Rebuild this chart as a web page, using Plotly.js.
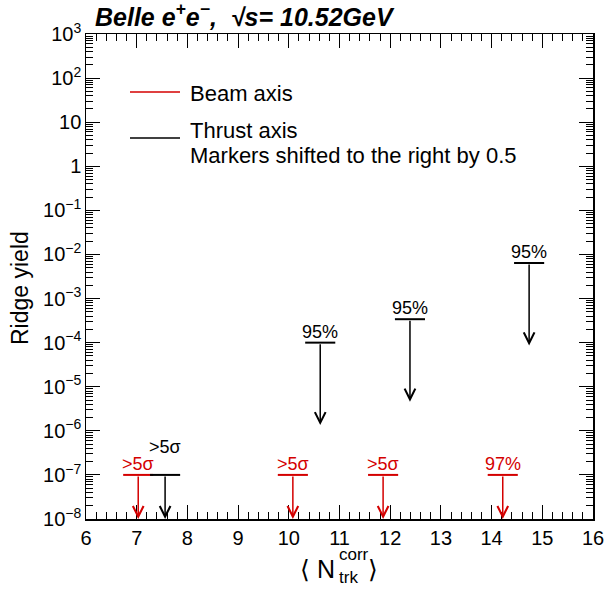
<!DOCTYPE html>
<html><head><meta charset="utf-8">
<script src="https://cdn.plot.ly/plotly-3.0.1.min.js"></script>
<style>html,body{margin:0;padding:0;background:#fff}</style>
</head><body><div id="chart" style="width:605px;height:591px"></div>
<script>
// ---------------- data ----------------
const beamX = [7.03, 10.08, 11.86, 14.22];
const beamLimit = [1e-7, 1e-7, 1e-7, 1e-7];
const beamLabels = ['>5σ', '>5σ', '>5σ', '97%'];
const thrustX = [7.56, 10.62, 12.39, 14.74];
const thrustLimit = [1e-7, 1.0e-4, 3.4e-4, 6.4e-3];
const thrustLabels = ['>5σ', '95%', '95%', '95%'];
const seriesNames = ['Beam axis', 'Thrust axis'];
const legendNote = 'Markers shifted to the right by 0.5';
const titleText = '<b><i>Belle e<sup>+</sup>e<sup>−</sup>,  √s= 10.52GeV</i></b>';
const yTitle = 'Ridge yield';
const xRange = [6, 16];
const yRangeLog = [-8, 3];

// ---------------- style ----------------
const RED = '#d40000', BLACK = '#000000';
const FONT = 'Liberation Sans, Arial, Helvetica, sans-serif';
const W = 605, H = 591, L = 86, R = 593, T = 34, B = 519;
const px = x => (x - L) / (R - L);
const py = y => (B - y) / (B - T);
const ARROW_DECADES = 1.87;

const series = [
  {x: beamX, lim: beamLimit, lab: beamLabels, color: RED},
  {x: thrustX, lim: thrustLimit, lab: thrustLabels, color: BLACK}
];

const traces = series.map((s, i) => ({
  type: 'scatter', mode: 'markers', x: s.x, y: s.lim, name: seriesNames[i],
  showlegend: false, hoverinfo: 'skip', cliponaxis: false,
  marker: {symbol: 'line-ew', size: 21.5, color: s.color, line: {color: s.color, width: 2}}
}));

const annotations = [];
series.forEach((s, i) => {
  s.x.forEach((xv, j) => {
    const top = Math.log10(s.lim[j]);
    const tip = Math.max(top - ARROW_DECADES, yRangeLog[0]);
    annotations.push({x: xv, y: tip, ax: xv, ay: top, xref: 'x', yref: 'y', axref: 'x', ayref: 'y',
      text: '', showarrow: true, arrowhead: 5, arrowsize: 1.4, arrowwidth: 1.5, arrowcolor: s.color});
    // label; raise thrust label if it collides with a beam label at the same level
    let shift = 0;
    if (i === 1) {
      series[0].x.forEach((bx, k) => {
        if (Math.abs(bx - xv) < 0.8 && series[0].lim[k] === s.lim[j]) shift = 17;
      });
    }
    annotations.push({x: xv, y: top, xref: 'x', yref: 'y', text: s.lab[j], showarrow: false,
      yanchor: 'bottom', yshift: shift - 1, font: {family: FONT, size: 18, color: s.color}});
  });
});

// legend (custom)
const shapes = [
  {type: 'line', xref: 'paper', yref: 'paper', x0: px(130), x1: px(180), y0: py(92), y1: py(92), line: {color: RED, width: 1.5}},
  {type: 'line', xref: 'paper', yref: 'paper', x0: px(130), x1: px(180), y0: py(138), y1: py(138), line: {color: BLACK, width: 1.5}}
];
const LEG = {family: FONT, size: 22, color: '#000'};
annotations.push(
  {xref: 'paper', yref: 'paper', x: px(188), y: py(93), xanchor: 'left', yanchor: 'middle', text: seriesNames[0], showarrow: false, font: LEG},
  {xref: 'paper', yref: 'paper', x: px(188), y: py(131), xanchor: 'left', yanchor: 'middle', text: seriesNames[1], showarrow: false, font: LEG},
  {xref: 'paper', yref: 'paper', x: px(188), y: py(155), xanchor: 'left', yanchor: 'middle', text: legendNote, showarrow: false, font: LEG}
);
// title
annotations.push({xref: 'paper', yref: 'paper', x: px(93), y: py(15), xanchor: 'left', yanchor: 'middle',
  text: titleText, showarrow: false, font: {family: FONT, size: 25, color: '#000'}});
// y title
annotations.push({xref: 'paper', yref: 'paper', x: px(20), y: py(288), xanchor: 'center', yanchor: 'middle',
  text: yTitle, textangle: -90, showarrow: false, font: {family: FONT, size: 23, color: '#000'}});
// x title: ⟨ N^corr_trk ⟩
annotations.push(
  {xref: 'paper', yref: 'paper', x: px(336), y: py(569), xanchor: 'right', yanchor: 'middle', text: '⟨ N', showarrow: false, borderpad: 0, font: {family: FONT, size: 25, color: '#000'}},
  {xref: 'paper', yref: 'paper', x: px(338), y: py(554), xanchor: 'left', yanchor: 'middle', text: 'corr', showarrow: false, borderpad: 0, font: {family: FONT, size: 17, color: '#000'}},
  {xref: 'paper', yref: 'paper', x: px(338), y: py(577), xanchor: 'left', yanchor: 'middle', text: 'trk', showarrow: false, borderpad: 0, font: {family: FONT, size: 17, color: '#000'}},
  {xref: 'paper', yref: 'paper', x: px(367), y: py(569), xanchor: 'left', yanchor: 'middle', text: '⟩', showarrow: false, borderpad: 0, font: {family: FONT, size: 25, color: '#000'}}
);

const layout = {
  width: W, height: H, margin: {l: L, r: W - R, t: T, b: H - B}, paper_bgcolor: '#fff', plot_bgcolor: '#fff',
  showlegend: false, font: {family: FONT, color: '#000'},
  xaxis: {range: xRange, dtick: 1, tick0: 6, ticks: 'inside', ticklen: 14, tickwidth: 1, tickcolor: '#000',
    mirror: 'allticks', showline: true, linecolor: '#000', linewidth: 1.5, showgrid: false, zeroline: false,
    minor: {dtick: 0.2, ticks: 'inside', ticklen: 7, tickwidth: 1, tickcolor: '#000', showgrid: false},
    tickfont: {family: FONT, size: 20, color: '#000'}, fixedrange: true},
  yaxis: {type: 'log', range: yRangeLog, dtick: 1, exponentformat: 'power', ticks: 'inside', ticklen: 14, tickwidth: 1, tickcolor: '#000',
    mirror: 'allticks', showline: true, linecolor: '#000', linewidth: 1.5, showgrid: false, zeroline: false,
    minor: {dtick: 'D1', ticks: 'inside', ticklen: 7, tickwidth: 1, tickcolor: '#000', showgrid: false},
    tickfont: {family: FONT, size: 16, color: '#000'}, fixedrange: true},
  shapes: shapes, annotations: annotations
};
Plotly.newPlot('chart', traces, layout, {staticPlot: true, displayModeBar: false});
</script></body></html>
